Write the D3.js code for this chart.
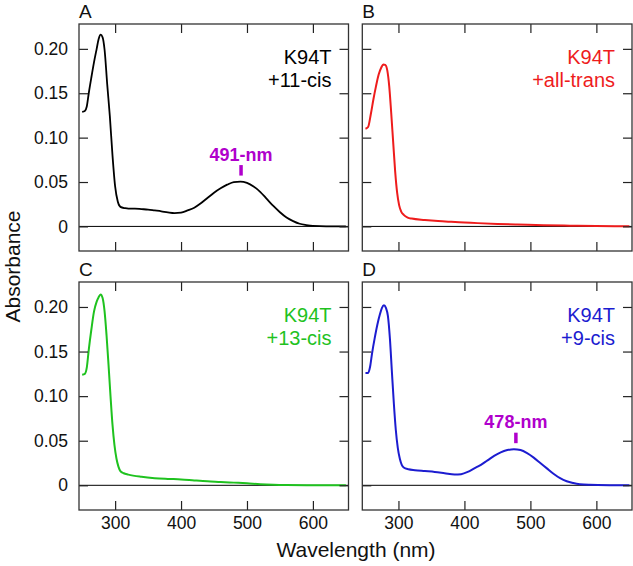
<!DOCTYPE html>
<html>
<head>
<meta charset="utf-8">
<script src="https://cdn.jsdelivr.net/npm/d3@7/dist/d3.min.js"></script>
<style>
  html, body { margin: 0; padding: 0; background: #fff; }
  svg { display: block; font-family: "Liberation Sans", Arial, sans-serif; }
</style>
</head>
<body>
<svg id="chart" width="633" height="566"></svg>
<script>
// ---- Data ----
const xTicks = [300, 400, 500, 600];
const yTicks = [0, 0.05, 0.10, 0.15, 0.20];
const yTickLabels = ["0", "0.05", "0.10", "0.15", "0.20"];

const panelLetters = ["A", "B", "C", "D"];
const panelTitles = [["K94T", "+11-cis"], ["K94T", "+all-trans"], ["K94T", "+13-cis"], ["K94T", "+9-cis"]];
const panelColors = ["#000000", "#ee1c1c", "#1fc21f", "#1c1cd0"];

// 11-cis (A)
const wlA = [250,254,257,260,264,268,272,275,278,281,284,288,292,296,300,304,308,315,320,330,340,350,360,370,380,390,400,410,420,430,440,450,460,470,480,490,500,510,520,530,540,550,560,570,580,590,600,620,650];
const absA = [0.129,0.130,0.135,0.150,0.168,0.185,0.200,0.211,0.216,0.213,0.199,0.160,0.124,0.080,0.045,0.028,0.022,0.0205,0.020,0.020,0.0195,0.019,0.018,0.017,0.0158,0.015,0.0155,0.018,0.021,0.026,0.032,0.038,0.043,0.047,0.050,0.0505,0.049,0.045,0.039,0.031,0.023,0.016,0.010,0.006,0.003,0.0015,0.0005,0.0,0.0];

// all-trans (B)
const wlB = [250,254,258,262,266,270,274,277,280,283,286,289,292,295,298,301,304,308,314,320,340,360,380,400,420,450,480,520,560,600,650];
const absB = [0.110,0.112,0.126,0.143,0.158,0.171,0.179,0.1825,0.182,0.176,0.158,0.128,0.095,0.062,0.038,0.024,0.017,0.013,0.010,0.0088,0.0072,0.006,0.0052,0.0045,0.0037,0.0028,0.0022,0.0014,0.0008,0.0004,0.0002];

// 13-cis (C)
const wlC = [250,254,257,260,264,268,272,275,278,281,284,287,290,293,296,299,302,305,308,313,320,340,360,380,400,420,440,460,480,500,520,540,560,600,650];
const absC = [0.124,0.125,0.132,0.152,0.175,0.195,0.206,0.211,0.214,0.210,0.195,0.168,0.135,0.100,0.068,0.045,0.030,0.021,0.016,0.0135,0.012,0.0095,0.008,0.0072,0.0066,0.0055,0.0045,0.0038,0.003,0.0022,0.0012,0.0006,0.0003,0.0001,0.0];

// 9-cis (D)
const wlD = [250,254,257,260,264,268,272,275,278,281,284,287,290,293,296,299,302,305,308,315,325,340,355,370,385,395,405,415,425,435,445,455,465,475,485,495,505,515,525,535,545,555,565,575,590,620,650];
const absD = [0.126,0.126,0.133,0.148,0.165,0.180,0.192,0.199,0.202,0.199,0.190,0.165,0.128,0.092,0.062,0.042,0.030,0.023,0.020,0.018,0.017,0.016,0.015,0.0135,0.012,0.0125,0.015,0.019,0.023,0.028,0.033,0.037,0.0395,0.0405,0.0395,0.036,0.031,0.025,0.019,0.013,0.008,0.0045,0.0025,0.0012,0.0005,0.0001,0.0];

const peakLabels = ["491-nm", null, null, "478-nm"];
const peakWl = [491, null, null, 478];
const peakAbs = [0.0505, null, null, 0.0405];

const seriesWl = [wlA, wlB, wlC, wlD];
const seriesAbs = [absA, absB, absC, absD];

// ---- Layout ----
const svg = d3.select("#chart");
const FONT = '"Liberation Sans", Arial, sans-serif';
const panels = [
  {x0: 79, x1: 348.5, y0: 24, y1: 251},
  {x0: 362.3, x1: 632, y0: 24, y1: 251},
  {x0: 79, x1: 348.5, y0: 282, y1: 510},
  {x0: 362.3, x1: 632, y0: 282, y1: 510}
];
const xDomain = [245.2, 654];
const yDomain = [-0.0277, 0.228];
const peakColor = "#b000cc";
const tickLen = 9;

panels.forEach((p, i) => {
  const x = d3.scaleLinear().domain(xDomain).range([p.x0, p.x1]);
  const y = d3.scaleLinear().domain(yDomain).range([p.y1, p.y0]);
  const g = svg.append("g");

  // zero line
  g.append("line")
    .attr("x1", p.x0).attr("x2", p.x1)
    .attr("y1", y(0)).attr("y2", y(0))
    .attr("stroke", "#000").attr("stroke-width", 1);

  // data line
  const pts = seriesWl[i].map((w, k) => [w, seriesAbs[i][k]]);
  g.append("path")
    .datum(pts)
    .attr("fill", "none")
    .attr("stroke", panelColors[i])
    .attr("stroke-width", i === 0 ? 1.8 : 2)
    .attr("stroke-linejoin", "round")
    .attr("d", d3.line().x(d => x(d[0])).y(d => y(d[1])).curve(d3.curveMonotoneX));

  // axes with inward ticks
  const axB = d3.axisBottom(x).tickValues(xTicks).tickSize(-tickLen).tickPadding(7).tickSizeOuter(0);
  const axT = d3.axisTop(x).tickValues(xTicks).tickSize(-tickLen).tickFormat("").tickSizeOuter(0);
  const axL = d3.axisLeft(y).tickValues(yTicks).tickSize(-tickLen).tickPadding(11).tickSizeOuter(0)
    .tickFormat((d, k) => yTickLabels[k]);
  const axR = d3.axisRight(y).tickValues(yTicks).tickSize(-tickLen).tickFormat("").tickSizeOuter(0);

  const showX = i >= 2, showY = (i % 2 === 0);
  const gB = g.append("g").attr("transform", `translate(0,${p.y1})`).call(showX ? axB : axB.tickFormat(""));
  const gT = g.append("g").attr("transform", `translate(0,${p.y0})`).call(axT);
  const gL = g.append("g").attr("transform", `translate(${p.x0},0)`).call(showY ? axL : axL.tickFormat(""));
  const gR = g.append("g").attr("transform", `translate(${p.x1},0)`).call(axR);
  [gB, gT, gL, gR].forEach(a => {
    a.select(".domain").remove();
    a.selectAll(".tick line").attr("stroke", "#222").attr("stroke-width", 1.2);
    a.selectAll(".tick text").attr("fill", "#111").style("font-size", "17.5px").style("font-family", FONT);
  });

  // frame
  g.append("rect")
    .attr("x", p.x0).attr("y", p.y0)
    .attr("width", p.x1 - p.x0).attr("height", p.y1 - p.y0)
    .attr("fill", "none").attr("stroke", "#333").attr("stroke-width", 1.3);

  // panel letter
  g.append("text")
    .attr("x", p.x0).attr("y", p.y0 - 6)
    .attr("fill", "#111").style("font-size", "19px").style("font-family", FONT)
    .text(panelLetters[i]);

  // in-panel label
  const lab = g.append("text")
    .attr("text-anchor", "end")
    .attr("fill", panelColors[i])
    .style("font-size", "20px").style("font-family", FONT);
  panelTitles[i].forEach((t, k) => {
    lab.append("tspan").attr("x", p.x1 - 17).attr("y", p.y0 + 39.5 + k * 23).text(t);
  });

  // peak marker
  if (peakLabels[i]) {
    const px = x(peakWl[i]), py = y(peakAbs[i]);
    g.append("line")
      .attr("x1", px).attr("x2", px)
      .attr("y1", py - 6).attr("y2", py - 16.5)
      .attr("stroke", peakColor).attr("stroke-width", 3.5);
    g.append("text")
      .attr("x", px).attr("y", py - 21)
      .attr("text-anchor", "middle")
      .attr("fill", peakColor)
      .style("font-size", "18px").style("font-weight", "bold").style("font-family", FONT)
      .text(peakLabels[i]);
  }
});

// axis titles
svg.append("text")
  .attr("transform", "translate(19.5,266.5) rotate(-90)")
  .attr("text-anchor", "middle")
  .attr("fill", "#111")
  .style("font-size", "21px").style("font-family", FONT)
  .text("Absorbance");

svg.append("text")
  .attr("x", 356).attr("y", 557)
  .attr("text-anchor", "middle")
  .attr("fill", "#111")
  .style("font-size", "21px").style("font-family", FONT)
  .text("Wavelength (nm)");
</script>
</body>
</html>
